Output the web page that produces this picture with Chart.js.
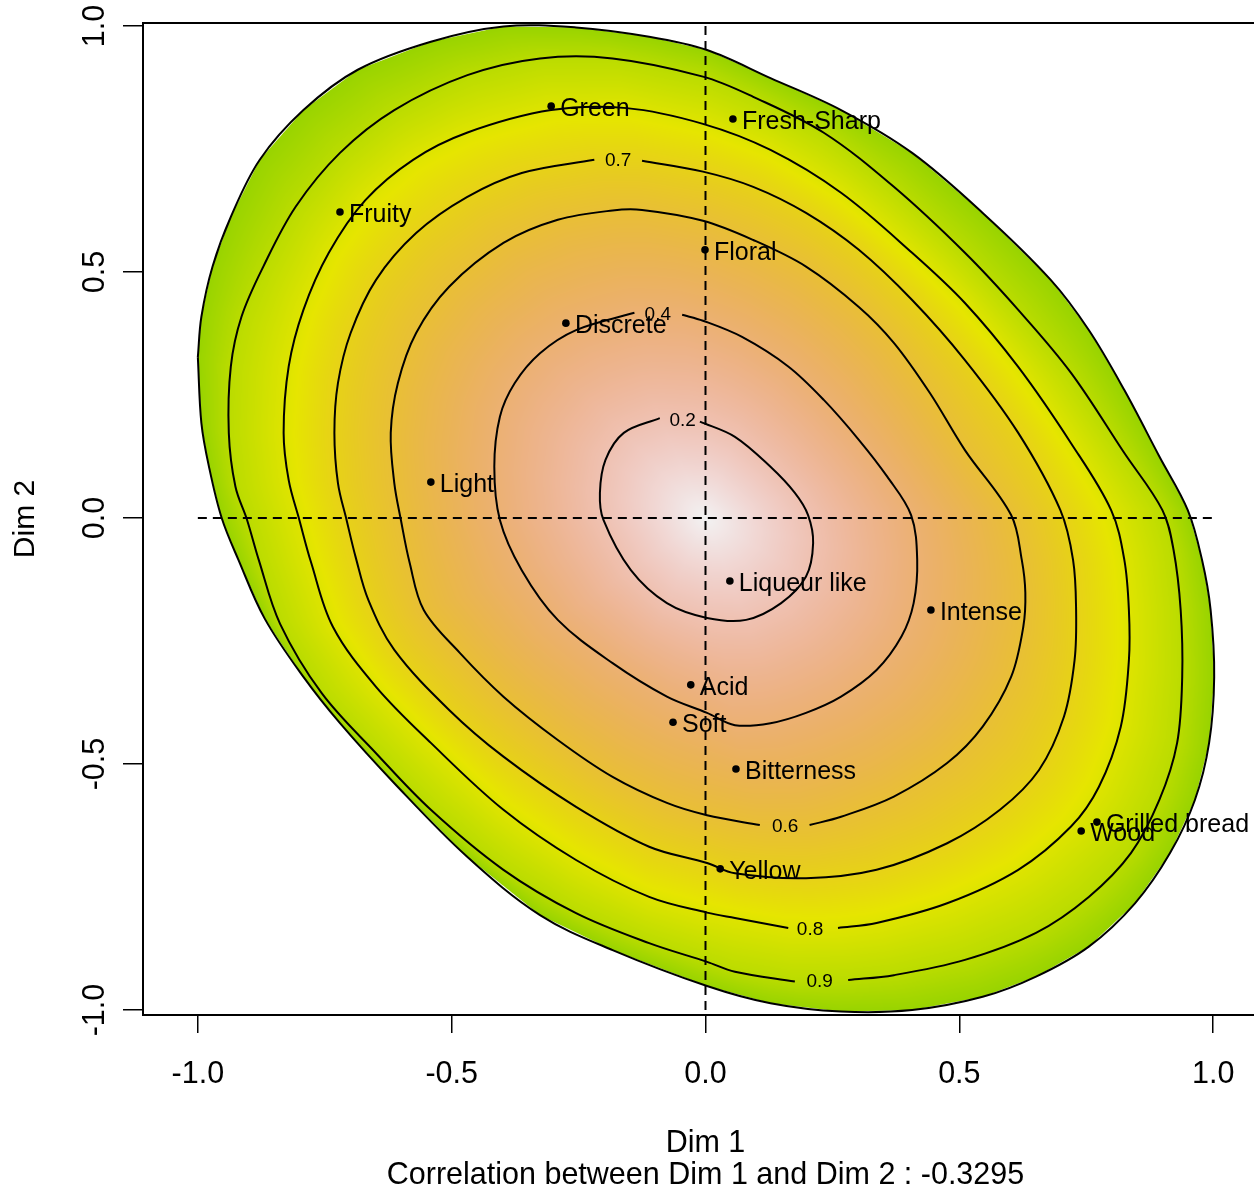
<!DOCTYPE html>
<html>
<head>
<meta charset="utf-8">
<script src="https://cdn.jsdelivr.net/npm/chart.js@4.4.0/dist/chart.umd.min.js"></script>
<style>
    html, body { margin: 0; padding: 0; background: #fff; overflow: hidden; }
    #caixa { width: 1275px; height: 1190px; }
</style>
</head>
<body>
<div id="caixa"><canvas id="grafico"></canvas></div>
<script>
// ── Dados ──
const variaveis = ["Green", "Fresh-Sharp", "Fruity", "Floral", "Discrete", "Light", "Liqueur like",
                   "Intense", "Acid", "Soft", "Bitterness", "Grilled bread", "Wood", "Yellow"];
const dim1 = [-0.304, 0.054, -0.720, -0.001, -0.275, -0.541, 0.048, 0.444, -0.029, -0.064, 0.060, 0.771, 0.740, 0.029];
const dim2 = [0.837, 0.811, 0.622, 0.545, 0.396, 0.073, -0.128, -0.187, -0.339, -0.415, -0.510, -0.618, -0.636, -0.713];

const ticksEixo = [-1, -0.5, 0, 0.5, 1];
const linhaRef  = [-1, 1];

// níveis das curvas (o último é a borda da superfície)
const niveis       = [0.2, 0.4, 0.6, 0.7, 0.8, 0.9, 1.0];
const nivelCentro  = 0;
const centroSup    = [0, 0];
const rotulosNivel = ["0.2", "0.4", "0.6", "0.7", "0.8", "0.9"];
const posRotulos   = [[-0.045, 0.198], [-0.094, 0.413], [0.157, -0.627], [-0.172, 0.726], [0.206, -0.837], [0.225, -0.942]];

const c02 = [[-0.090,0.203],[-0.161,0.173],[-0.197,0.118],[-0.208,0.051],[-0.201,-0.004],[-0.147,-0.106],
    [-0.076,-0.173],[0.003,-0.203],[0.080,-0.207],[0.149,-0.173],[0.198,-0.119],[0.212,-0.051],[0.202,0.006],
    [0.176,0.051],[0.128,0.104],[0.058,0.165],[-0.011,0.196]];
const c04 = [[-0.140,0.417],[-0.255,0.382],[-0.326,0.335],[-0.376,0.274],[-0.405,0.206],[-0.416,0.104],
    [-0.405,-0.004],[-0.362,-0.106],[-0.291,-0.207],[-0.183,-0.295],[-0.076,-0.363],[0.003,-0.396],[0.058,-0.421],
    [0.128,-0.417],[0.198,-0.396],[0.267,-0.363],[0.337,-0.309],[0.386,-0.241],[0.410,-0.173],[0.417,-0.085],
    [0.405,0.006],[0.358,0.084],[0.302,0.159],[0.233,0.240],[0.163,0.308],[0.072,0.368],[-0.005,0.401],[-0.046,0.413]];
const c06 = [[0.205,-0.624],[0.267,-0.607],[0.371,-0.566],[0.476,-0.498],[0.546,-0.424],[0.602,-0.323],
    [0.626,-0.221],[0.630,-0.152],[0.623,-0.085],[0.602,0.006],[0.511,0.138],[0.442,0.254],[0.371,0.356],
    [0.302,0.429],[0.198,0.511],[0.094,0.565],[-0.005,0.604],[-0.125,0.626],[-0.183,0.625],[-0.291,0.606],
    [-0.398,0.559],[-0.505,0.470],[-0.570,0.376],[-0.606,0.274],[-0.620,0.173],[-0.613,0.071],[-0.600,-0.004],
    [-0.583,-0.090],[-0.555,-0.187],[-0.484,-0.274],[-0.398,-0.363],[-0.291,-0.451],[-0.183,-0.526],
    [-0.076,-0.579],[0.003,-0.604],[0.107,-0.624]];
const c07 = [[-0.219,0.728],[-0.362,0.701],[-0.470,0.652],[-0.570,0.579],[-0.649,0.484],[-0.699,0.376],
    [-0.724,0.274],[-0.731,0.173],[-0.724,0.071],[-0.707,-0.004],[-0.689,-0.080],[-0.664,-0.167],[-0.613,-0.268],
    [-0.505,-0.390],[-0.398,-0.485],[-0.255,-0.587],[-0.111,-0.668],[0.003,-0.701],[0.058,-0.722],[0.198,-0.732],
    [0.337,-0.715],[0.476,-0.661],[0.580,-0.593],[0.657,-0.512],[0.706,-0.404],[0.727,-0.289],[0.730,-0.187],
    [0.724,-0.085],[0.699,0.016],[0.616,0.173],[0.511,0.321],[0.407,0.443],[0.302,0.545],[0.198,0.620],
    [0.094,0.673],[-0.005,0.704],[-0.125,0.726]];
const c08 = [[0.261,-0.833],[0.337,-0.823],[0.476,-0.783],[0.616,-0.715],[0.720,-0.627],[0.775,-0.546],
    [0.818,-0.424],[0.834,-0.289],[0.834,-0.187],[0.825,-0.085],[0.799,0.016],[0.720,0.152],[0.616,0.307],
    [0.511,0.437],[0.407,0.539],[0.267,0.661],[0.128,0.748],[-0.005,0.801],[-0.155,0.833],[-0.304,0.829],
    [-0.470,0.783],[-0.576,0.728],[-0.670,0.646],[-0.742,0.539],[-0.792,0.423],[-0.821,0.308],[-0.831,0.173],
    [-0.821,0.077],[-0.800,-0.004],[-0.777,-0.090],[-0.734,-0.221],[-0.649,-0.343],[-0.541,-0.457],
    [-0.398,-0.593],[-0.255,-0.695],[-0.111,-0.770],[0.003,-0.802],[0.058,-0.813],[0.163,-0.833]];
const c09 = [[0.281,-0.939],[0.371,-0.929],[0.511,-0.898],[0.651,-0.843],[0.755,-0.770],[0.838,-0.681],
    [0.894,-0.573],[0.929,-0.457],[0.939,-0.323],[0.936,-0.187],[0.922,-0.065],[0.900,0.016],[0.825,0.132],
    [0.720,0.295],[0.616,0.423],[0.511,0.539],[0.371,0.673],[0.233,0.783],[0.094,0.856],[-0.005,0.897],
    [-0.183,0.934],[-0.326,0.934],[-0.469,0.900],[-0.613,0.829],[-0.720,0.742],[-0.807,0.633],[-0.871,0.511],
    [-0.914,0.409],[-0.935,0.308],[-0.939,0.173],[-0.926,0.064],[-0.903,-0.004],[-0.880,-0.085],[-0.838,-0.215],
    [-0.756,-0.356],[-0.649,-0.478],[-0.541,-0.593],[-0.398,-0.715],[-0.255,-0.803],[-0.111,-0.864],
    [0.003,-0.902],[0.058,-0.922],[0.176,-0.942]];
const borda = [[-1.000,0.327],[-0.993,0.193],[-0.978,0.104],[-0.953,0.000],[-0.920,-0.085],[-0.868,-0.205],
    [-0.792,-0.323],[-0.720,-0.417],[-0.613,-0.539],[-0.470,-0.688],[-0.326,-0.807],[-0.183,-0.878],
    [0.003,-0.951],[0.128,-0.986],[0.267,-1.003],[0.407,-1.000],[0.546,-0.973],[0.651,-0.932],[0.755,-0.871],
    [0.846,-0.783],[0.915,-0.681],[0.964,-0.573],[0.992,-0.457],[1.002,-0.323],[0.995,-0.187],[0.978,-0.085],
    [0.950,0.016],[0.894,0.125],[0.825,0.260],[0.755,0.382],[0.680,0.484],[0.546,0.620],[0.407,0.742],
    [0.267,0.829],[0.128,0.894],[0.003,0.951],[-0.111,0.978],[-0.255,0.997],[-0.398,0.999],[-0.541,0.968],
    [-0.685,0.911],[-0.792,0.829],[-0.878,0.728],[-0.935,0.612],[-0.971,0.511],[-0.993,0.409]];

const contornos = [c02, c04, c06, c07, c08, c09, borda];

const FONTE = "'Liberation Sans', Arial, sans-serif";

// ── Cores (terrain.colors contínuo) ──
function hsvParaRgb(h, s, v) {
    const i = Math.floor(h * 6), f = h * 6 - i;
    const p = v * (1 - s), q = v * (1 - f * s), t = v * (1 - (1 - f) * s);
    const m = [[v, t, p], [q, v, p], [p, v, t], [p, q, v], [t, p, v], [v, p, q]][((i % 6) + 6) % 6];
    return m.map(c => Math.round(c * 255));
}

function terreno(u) {
    if (u < 0.5) {
        const f = u / 0.5;
        return hsvParaRgb((4 - 2 * f) / 12, 1, 0.65 + 0.25 * f);
    }
    const f = (u - 0.5) / 0.5;
    return hsvParaRgb(2 * (1 - f) / 12, 1 - f, 0.9 + 0.05 * f);
}

function corDoNivel(nivel) {
    return terreno(1 - 0.64 * nivel);
}

// ── Superfície ──
function raioNoAngulo(poly, cx, cy, ang) {
    const dx = Math.cos(ang), dy = Math.sin(ang);
    let melhor = 0;
    for (let i = 0; i < poly.length; i++) {
        const [x1, y1] = poly[i];
        const [x2, y2] = poly[(i + 1) % poly.length];
        const ex = x2 - x1, ey = y2 - y1;
        const den = dx * ey - dy * ex;
        if (Math.abs(den) < 1e-9) continue;
        const qx = x1 - cx, qy = y1 - cy;
        const t = (qx * ey - qy * ex) / den;
        const s = (qx * dy - qy * dx) / den;
        if (s >= 0 && s <= 1 && t > melhor) melhor = t;
    }
    return melhor;
}

const pluginSuperficie = {
    id: "superficie",
    beforeDatasetsDraw(chart) {
        const { ctx, chartArea, scales: { x, y } } = chart;
        const L = Math.round(chartArea.left), T = Math.round(chartArea.top);
        const W = Math.round(chartArea.right) - L, H = Math.round(chartArea.bottom) - T;
        const cx = x.getPixelForValue(centroSup[0]), cy = y.getPixelForValue(centroSup[1]);
        const N = 1440;
        const tabelas = contornos.map(c => {
            const poly = c.map(p => [x.getPixelForValue(p[0]), y.getPixelForValue(p[1])]);
            const arr = new Float32Array(N);
            for (let k = 0; k < N; k++) arr[k] = raioNoAngulo(poly, cx, cy, k / N * 2 * Math.PI - Math.PI);
            return arr;
        });
        const lut = [];
        for (let k = 0; k <= 1000; k++) lut.push(corDoNivel(k / 1000));

        const off = document.createElement("canvas");
        off.width = W; off.height = H;
        const octx = off.getContext("2d");
        const img = octx.createImageData(W, H);
        const d = img.data;
        const nc = niveis.length;
        const raios = new Float32Array(nc);
        for (let j = 0; j < H; j++) {
            const py = T + j + 0.5 - cy;
            for (let i = 0; i < W; i++) {
                const px = L + i + 0.5 - cx;
                const r = Math.hypot(px, py);
                const f = (Math.atan2(py, px) + Math.PI) / (2 * Math.PI) * N;
                const k0 = Math.floor(f) % N, k1 = (k0 + 1) % N, w = f - Math.floor(f);
                for (let m = 0; m < nc; m++) raios[m] = tabelas[m][k0] * (1 - w) + tabelas[m][k1] * w;
                const externo = raios[nc - 1];
                if (r > externo + 0.5) continue;
                let nivel = niveis[nc - 1];
                let rAnt = 0, lAnt = nivelCentro;
                for (let m = 0; m < nc; m++) {
                    if (r <= raios[m]) {
                        nivel = lAnt + (niveis[m] - lAnt) * (r - rAnt) / Math.max(raios[m] - rAnt, 1e-6);
                        break;
                    }
                    rAnt = raios[m]; lAnt = niveis[m];
                }
                const cor = lut[Math.max(0, Math.min(1000, Math.round(nivel * 1000)))];
                const a = Math.max(0, Math.min(1, externo - r + 0.5));
                const o = (j * W + i) * 4;
                d[o] = cor[0]; d[o + 1] = cor[1]; d[o + 2] = cor[2]; d[o + 3] = Math.round(a * 255);
            }
        }
        octx.putImageData(img, 0, 0);
        ctx.drawImage(off, L, T);
    }
};

// ── Rótulos, moldura ──
const pluginTextos = {
    id: "textos",
    afterDatasetsDraw(chart) {
        const { ctx, chartArea, scales: { x, y } } = chart;
        ctx.save();
        ctx.fillStyle = "#000";
        ctx.textBaseline = "middle";

        ctx.font = `19px ${FONTE}`;
        ctx.textAlign = "center";
        rotulosNivel.forEach((t, i) => {
            ctx.fillText(t, x.getPixelForValue(posRotulos[i][0]), y.getPixelForValue(posRotulos[i][1]));
        });

        ctx.font = `25px ${FONTE}`;
        ctx.textAlign = "left";
        variaveis.forEach((v, i) => {
            ctx.fillText(v, x.getPixelForValue(dim1[i]) + 9, y.getPixelForValue(dim2[i]) + 3);
        });

        ctx.strokeStyle = "#000";
        ctx.lineWidth = 2;
        ctx.strokeRect(chartArea.left, chartArea.top, chartArea.right - chartArea.left, chartArea.bottom - chartArea.top);
        ctx.restore();
    }
};

// ── Gráfico ──
const dsContornos = contornos.map((c, i) => {
    const pts = i === contornos.length - 1 ? [...c, c[0]] : c;
    return {
        data: pts.map(p => ({ x: p[0], y: p[1] })),
        showLine: true,
        borderColor: "#000",
        borderWidth: 2,
        tension: 0.35,
        pointRadius: 0,
        pointHitRadius: 0,
        fill: false,
        order: 2,
    };
});

const dsReferencia = [
    linhaRef.map(v => ({ x: v, y: 0 })),
    linhaRef.map(v => ({ x: 0, y: v })),
].map(dados => ({
    data: dados,
    showLine: true,
    borderColor: "#000",
    borderWidth: 2,
    borderDash: [9, 6],
    pointRadius: 0,
    pointHitRadius: 0,
    order: 3,
}));

const dsVariaveis = {
    data: variaveis.map((v, i) => ({ x: dim1[i], y: dim2[i] })),
    pointRadius: 3.8,
    pointBackgroundColor: "#000",
    pointBorderWidth: 0,
    order: 0,
};

const eixoTicks = s => { s.ticks = ticksEixo.map(v => ({ value: v })); };

new Chart(document.getElementById("grafico"), {
    type: "scatter",
    data: { datasets: [dsVariaveis, ...dsContornos, ...dsReferencia] },
    options: {
        responsive: true,
        maintainAspectRatio: false,
        animation: false,
        layout: { padding: { left: 0, top: 23, right: 7, bottom: 0 } },
        plugins: { legend: { display: false }, tooltip: { enabled: false } },
        scales: {
            x: {
                type: "linear",
                min: -1.108, max: 1.108,
                afterBuildTicks: eixoTicks,
                afterFit: s => { s.height = 175; },
                ticks: { callback: v => v.toFixed(1), color: "#000", padding: 23.5, font: { family: FONTE, size: 30.5 } },
                grid: { drawOnChartArea: false, drawTicks: true, tickLength: 18, color: "#000", lineWidth: 1.5 },
                border: { display: false },
                title: {
                    display: true,
                    text: ["Dim 1", "Correlation between Dim 1 and Dim 2 : -0.3295"],
                    color: "#000",
                    font: { family: FONTE, size: 30.5, lineHeight: 1.06 },
                    padding: { top: 0, bottom: -2 },
                },
            },
            y: {
                type: "linear",
                min: -1.01, max: 1.006,
                afterBuildTicks: eixoTicks,
                afterFit: s => { s.width = 143; },
                ticks: { callback: v => v.toFixed(1), color: "#000", padding: 1, minRotation: 90, maxRotation: 90,
                         crossAlign: "center", font: { family: FONTE, size: 30.5 } },
                grid: { drawOnChartArea: false, drawTicks: true, tickLength: 20, color: "#000", lineWidth: 1.5 },
                border: { display: false },
                title: {
                    display: true,
                    text: "Dim 2",
                    color: "#000",
                    font: { family: FONTE, size: 30, lineHeight: 1 },
                    padding: { top: 11, bottom: 0 },
                },
            },
        },
    },
    plugins: [pluginSuperficie, pluginTextos],
});
</script>
</body>
</html>
